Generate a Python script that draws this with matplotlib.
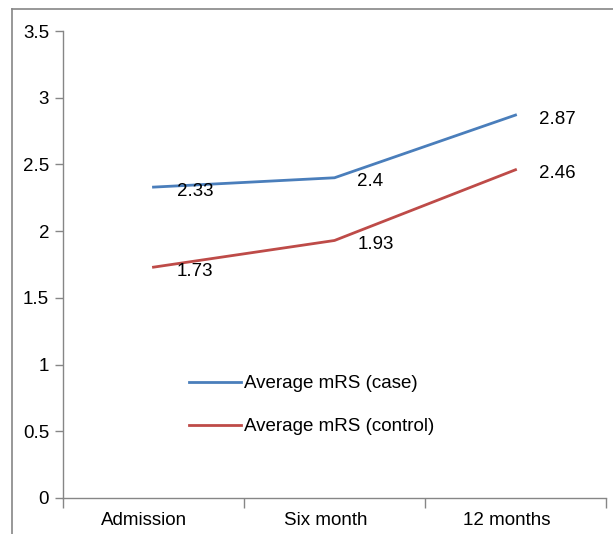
import matplotlib.pyplot as plt
from matplotlib.lines import Line2D
from matplotlib.transforms import ScaledTranslation

plt.rcParams["font.family"] = ["Liberation Sans", "DejaVu Sans"]

categories = ["Admission", "Six month", "12 months"]
case_values = [2.33, 2.4, 2.87]
control_values = [1.73, 1.93, 2.46]
y_ticks = [0, 0.5, 1, 1.5, 2, 2.5, 3, 3.5]

BLUE = "#4A7EBB"
RED = "#BE4B48"
GRAY = "#868686"
FS = 13.5

W, H = 613, 534
fig = plt.figure(figsize=(W / 100, H / 100), dpi=100)
ax = fig.add_axes([63 / W, (H - 498) / H, (606 - 63) / W, (498 - 31) / H])

x = list(range(len(categories)))
ax.plot(x, case_values, color=BLUE, lw=2, label="Average mRS (case)")
ax.plot(x, control_values, color=RED, lw=2, label="Average mRS (control)")

for xs, ys in ((x, case_values), (x, control_values)):
    for xi, yi in zip(xs, ys):
        ax.annotate(f"{yi:g}", (xi, yi), xytext=(23, -4), textcoords="offset pixels",
                    ha="left", va="center", fontsize=FS)

ax.set_xlim(-0.5, len(categories) - 0.5)
ax.set_ylim(0, 3.5)
ax.set_yticks(y_ticks)
ax.set_yticklabels([f"{v:g}" for v in y_ticks])
ax.set_xticks(x)
ax.set_xticklabels(categories)
ax.set_xticks([i - 0.5 for i in range(len(categories) + 1)], minor=True)
ax.tick_params(axis="x", which="major", length=0, pad=10, labelsize=FS)
ax.tick_params(axis="x", which="minor", length=7, color=GRAY, width=1)
ax.tick_params(axis="y", length=6, color=GRAY, width=1, pad=4, labelsize=FS)

# category labels sit a little left of the category centre
shift = ScaledTranslation(-9 / 100, 0, fig.dpi_scale_trans)
for lbl in ax.get_xticklabels():
    lbl.set_transform(lbl.get_transform() + shift)

for side in ("top", "right"):
    ax.spines[side].set_visible(False)
for side in ("left", "bottom"):
    ax.spines[side].set_color(GRAY)
    ax.spines[side].set_linewidth(1)

ax.legend(loc="upper left", bbox_to_anchor=(189 / W, (H - 375) / H),
          bbox_transform=fig.transFigure, frameon=False, fontsize=FS,
          handlelength=2.75, handletextpad=0.2, labelspacing=1.38,
          borderaxespad=0, borderpad=0)

# outer border around the chart area
fig.add_artist(Line2D([12 / W, 12 / W], [0, (H - 9) / H], color=GRAY, lw=1.2))
fig.add_artist(Line2D([12 / W, 1], [(H - 9) / H, (H - 9) / H], color=GRAY, lw=1.2))

fig.savefig("out.png", dpi=100)
